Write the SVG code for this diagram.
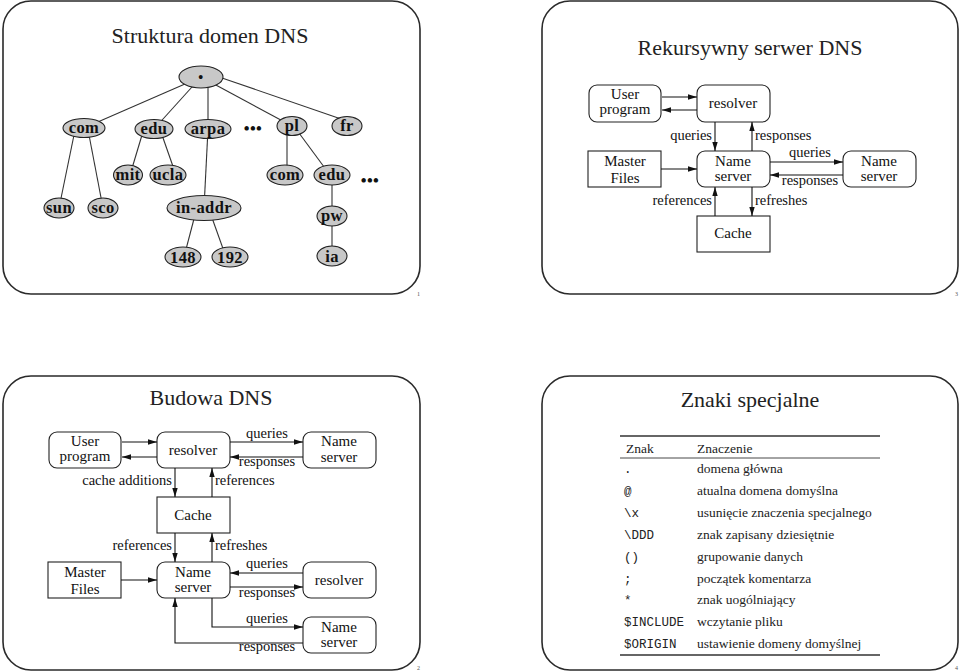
<svg xmlns="http://www.w3.org/2000/svg" width="960" height="672" viewBox="0 0 960 672">
<style>
.frame{fill:none;stroke:#2a2a2a;stroke-width:1.6}
.ttl{font-family:"Liberation Serif","Times New Roman",serif;font-size:22px;fill:#222;text-anchor:middle}
.nd{fill:#c8c8c8;stroke:#222;stroke-width:1.1}
.nt{font-family:"Liberation Serif",serif;font-size:16.5px;font-weight:bold;fill:#111;text-anchor:middle;letter-spacing:0.4px}
.tree{stroke:#333;stroke-width:1.1;fill:none}
.box{fill:#fff;stroke:#222;stroke-width:1.1}
.bt{font-family:"Liberation Serif",serif;font-size:15px;fill:#111;text-anchor:middle}
.lb{font-family:"Liberation Serif",serif;font-size:14.5px;fill:#111}
.c{text-anchor:middle}
.e{text-anchor:end}
.ar{stroke:#111;stroke-width:1.1;fill:none;marker-end:url(#ah)}
.tx{font-family:"Liberation Serif",serif;font-size:13.5px;fill:#222}
.mono{font-family:"Liberation Mono",monospace;font-size:12.5px;fill:#222}
.rule{stroke:#333}
.pn{font-family:"Liberation Serif",serif;font-size:6px;fill:#555}
</style>
<defs>
<marker id="ah" viewBox="0 0 10 6" refX="10" refY="3" markerWidth="9" markerHeight="6" orient="auto" markerUnits="userSpaceOnUse">
<path d="M0,0 L10,3 L0,6 z" fill="#111"/>
</marker>
</defs>
<rect width="960" height="672" fill="#fff"/>

<!-- page frames -->
<g id="frames">
<rect class="frame" x="3" y="1" width="417" height="293" rx="28"/>
<rect class="frame" x="542" y="1" width="416" height="293" rx="28"/>
<rect class="frame" x="3" y="376" width="417" height="294" rx="28"/>
<rect class="frame" x="542" y="376" width="416" height="294" rx="28"/>
<text class="pn" x="417" y="296">1</text>
<text class="pn" x="955" y="296">3</text>
<text class="pn" x="417" y="670">2</text>
<text class="pn" x="955" y="670">4</text>
</g>

<!-- ================= Slide 1: tree ================= -->
<text class="ttl" x="210" y="43" font-family="Liberation Serif, serif">Struktura domen DNS</text>
<g id="tree-connectors">
<line class="tree" x1="201" y1="77" x2="84" y2="128"/>
<line class="tree" x1="201" y1="77" x2="154" y2="129"/>
<line class="tree" x1="208" y1="85" x2="208" y2="129"/>
<line class="tree" x1="201" y1="77" x2="292" y2="126"/>
<line class="tree" x1="222" y1="78" x2="344" y2="120"/>
<line class="tree" x1="74" y1="135" x2="59" y2="208"/>
<line class="tree" x1="89" y1="135" x2="103" y2="208"/>
<line class="tree" x1="142" y1="135" x2="130" y2="175"/>
<line class="tree" x1="162" y1="135" x2="176" y2="175"/>
<line class="tree" x1="208" y1="129" x2="204" y2="208"/>
<line class="tree" x1="287" y1="126" x2="287" y2="175"/>
<line class="tree" x1="299" y1="133" x2="330" y2="175"/>
<line class="tree" x1="332" y1="175" x2="332" y2="216"/>
<line class="tree" x1="332" y1="216" x2="332" y2="256"/>
<line class="tree" x1="195" y1="215" x2="184" y2="257"/>
<line class="tree" x1="211" y1="215" x2="226" y2="257"/>
</g>
<g id="n-root"><ellipse class="nd" cx="201" cy="77" rx="22" ry="11"/><text class="nt" x="201" y="82" style="font-size:14px">•</text></g>
<g id="n-com"><ellipse class="nd" cx="84" cy="128" rx="21" ry="9.5"/><text class="nt" x="84" y="133">com</text></g>
<g id="n-edu"><ellipse class="nd" cx="154" cy="129" rx="19" ry="9.5"/><text class="nt" x="154" y="134">edu</text></g>
<g id="n-arpa"><ellipse class="nd" cx="208" cy="129" rx="23" ry="9.5"/><text class="nt" x="208" y="134">arpa</text></g>
<g id="dots1"><text class="nt" x="253" y="134">•••</text></g>
<g id="n-pl"><ellipse class="nd" cx="292" cy="126" rx="15" ry="9.5"/><text class="nt" x="292" y="131">pl</text></g>
<g id="n-fr"><ellipse class="nd" cx="347" cy="126" rx="15" ry="9.5"/><text class="nt" x="347" y="131">fr</text></g>
<g id="n-mit"><ellipse class="nd" cx="128" cy="175" rx="14.5" ry="10"/><text class="nt" x="128" y="180">mit</text></g>
<g id="n-ucla"><ellipse class="nd" cx="168" cy="175" rx="18" ry="10"/><text class="nt" x="168" y="180">ucla</text></g>
<g id="n-com2"><ellipse class="nd" cx="285" cy="175" rx="18" ry="10"/><text class="nt" x="285" y="180">com</text></g>
<g id="n-edu2"><ellipse class="nd" cx="332" cy="175" rx="18" ry="10"/><text class="nt" x="332" y="180">edu</text></g>
<g id="dots2"><text class="nt" x="370" y="186">•••</text></g>
<g id="n-sun"><ellipse class="nd" cx="59" cy="208" rx="15" ry="10"/><text class="nt" x="59" y="213">sun</text></g>
<g id="n-sco"><ellipse class="nd" cx="103" cy="208" rx="15" ry="10"/><text class="nt" x="103" y="213">sco</text></g>
<g id="n-inaddr"><ellipse class="nd" cx="204" cy="208" rx="37" ry="12.5"/><text class="nt" x="204" y="213">in-addr</text></g>
<g id="n-pw"><ellipse class="nd" cx="332" cy="216" rx="15" ry="10"/><text class="nt" x="332" y="221">pw</text></g>
<g id="n-148"><ellipse class="nd" cx="183" cy="257" rx="18" ry="10"/><text class="nt" x="183" y="263">148</text></g>
<g id="n-192"><ellipse class="nd" cx="230" cy="257" rx="18" ry="10"/><text class="nt" x="230" y="263">192</text></g>
<g id="n-ia"><ellipse class="nd" cx="332" cy="256" rx="15" ry="10"/><text class="nt" x="332" y="262">ia</text></g>

<!-- ================= Slide 3: recursive ================= -->
<text class="ttl" x="750" y="55" font-family="Liberation Serif, serif">Rekursywny serwer DNS</text>
<g id="r-user"><rect class="box" x="589" y="85" width="72" height="37" rx="8"/><text class="bt" x="625" y="99">User</text><text class="bt" x="625" y="114">program</text></g>
<g id="r-resolver"><rect class="box" x="697" y="85" width="73" height="37" rx="8"/><text class="bt" x="733" y="108">resolver</text></g>
<g id="r-master"><rect class="box" x="588" y="151" width="73" height="36"/><text class="bt" x="625" y="166">Master</text><text class="bt" x="625" y="183">Files</text></g>
<g id="r-ns"><rect class="box" x="697" y="151" width="73" height="36" rx="8"/><text class="bt" x="733" y="166">Name</text><text class="bt" x="733" y="181">server</text></g>
<g id="r-ns2"><rect class="box" x="843" y="151" width="73" height="36" rx="8"/><text class="bt" x="879" y="166">Name</text><text class="bt" x="879" y="181">server</text></g>
<g id="r-cache"><rect class="box" x="697" y="216" width="73" height="36"/><text class="bt" x="733" y="238">Cache</text></g>
<g id="r-connectors">
<line class="ar" x1="662" y1="97" x2="697" y2="97"/>
<line class="ar" x1="697" y1="110" x2="662" y2="110"/>
<line class="ar" x1="715" y1="122" x2="715" y2="151"/>
<line class="ar" x1="752" y1="151" x2="752" y2="122"/>
<line class="ar" x1="770" y1="162" x2="843" y2="162"/>
<line class="ar" x1="843" y1="175" x2="770" y2="175"/>
<line class="ar" x1="661" y1="169" x2="697" y2="169"/>
<line class="ar" x1="715" y1="216" x2="715" y2="187"/>
<line class="ar" x1="752" y1="187" x2="752" y2="216"/>
<text class="lb e" x="712" y="140">queries</text>
<text class="lb" x="755" y="140">responses</text>
<text class="lb c" x="810" y="157">queries</text>
<text class="lb c" x="810" y="185">responses</text>
<text class="lb e" x="712" y="205">references</text>
<text class="lb" x="755" y="205">refreshes</text>
</g>

<!-- ================= Slide 2: structure ================= -->
<text class="ttl" x="211" y="405" font-family="Liberation Serif, serif">Budowa DNS</text>
<g id="b-user"><rect class="box" x="49" y="432" width="72" height="36" rx="8"/><text class="bt" x="85" y="446">User</text><text class="bt" x="85" y="461">program</text></g>
<g id="b-resolver"><rect class="box" x="157" y="432" width="73" height="36" rx="8"/><text class="bt" x="193" y="455">resolver</text></g>
<g id="b-ns1"><rect class="box" x="303" y="432" width="73" height="36" rx="8"/><text class="bt" x="339" y="446">Name</text><text class="bt" x="339" y="462">server</text></g>
<g id="b-cache"><rect class="box" x="157" y="497" width="73" height="36"/><text class="bt" x="193" y="520">Cache</text></g>
<g id="b-master"><rect class="box" x="48" y="562" width="73" height="36"/><text class="bt" x="85" y="577">Master</text><text class="bt" x="85" y="594">Files</text></g>
<g id="b-ns"><rect class="box" x="157" y="562" width="73" height="36" rx="8"/><text class="bt" x="193" y="577">Name</text><text class="bt" x="193" y="592">server</text></g>
<g id="b-resolver2"><rect class="box" x="303" y="562" width="73" height="36" rx="8"/><text class="bt" x="339" y="585">resolver</text></g>
<g id="b-ns2"><rect class="box" x="303" y="617" width="73" height="36" rx="8"/><text class="bt" x="339" y="632">Name</text><text class="bt" x="339" y="647">server</text></g>
<g id="b-connectors">
<line class="ar" x1="122" y1="442" x2="157" y2="442"/>
<line class="ar" x1="157" y1="457" x2="122" y2="457"/>
<line class="ar" x1="230" y1="442" x2="303" y2="442"/>
<line class="ar" x1="303" y1="457" x2="230" y2="457"/>
<line class="ar" x1="175" y1="468" x2="175" y2="497"/>
<line class="ar" x1="212" y1="497" x2="212" y2="468"/>
<line class="ar" x1="175" y1="533" x2="175" y2="562"/>
<line class="ar" x1="212" y1="562" x2="212" y2="533"/>
<line class="ar" x1="121" y1="580" x2="157" y2="580"/>
<line class="ar" x1="303" y1="573" x2="230" y2="573"/>
<line class="ar" x1="230" y1="587" x2="303" y2="587"/>
<polyline class="ar" points="212,598 212,627 303,627"/>
<polyline class="ar" points="303,643 175,643 175,598"/>
<text class="lb c" x="267" y="438">queries</text>
<text class="lb c" x="267" y="466">responses</text>
<text class="lb e" x="172" y="485">cache additions</text>
<text class="lb" x="215" y="485">references</text>
<text class="lb e" x="172" y="550">references</text>
<text class="lb" x="215" y="550">refreshes</text>
<text class="lb c" x="267" y="568">queries</text>
<text class="lb c" x="267" y="597">responses</text>
<text class="lb c" x="267" y="623">queries</text>
<text class="lb c" x="267" y="651">responses</text>
</g>

<!-- ================= Slide 4: table ================= -->
<text class="ttl" x="750" y="407" font-family="Liberation Serif, serif">Znaki specjalne</text>
<g id="table">
<line class="rule" x1="620" y1="436" x2="880" y2="436" stroke-width="1.3"/>
<line class="rule" x1="620" y1="458" x2="880" y2="458" stroke-width="0.9"/>
<line class="rule" x1="620" y1="655" x2="880" y2="655" stroke-width="1.3"/>
<text class="tx" x="626" y="453">Znak</text>
<text class="tx" x="697" y="453">Znaczenie</text>
<text class="mono" x="624" y="473">.</text><text class="tx" x="697" y="473">domena główna</text>
<text class="mono" x="624" y="495">@</text><text class="tx" x="697" y="495">atualna domena domyślna</text>
<text class="mono" x="624" y="517">\x</text><text class="tx" x="697" y="517">usunięcie znaczenia specjalnego</text>
<text class="mono" x="624" y="539">\DDD</text><text class="tx" x="697" y="539">znak zapisany dziesiętnie</text>
<text class="mono" x="624" y="561">()</text><text class="tx" x="697" y="561">grupowanie danych</text>
<text class="mono" x="624" y="583">;</text><text class="tx" x="697" y="583">początek komentarza</text>
<text class="mono" x="624" y="604">*</text><text class="tx" x="697" y="604">znak uogólniający</text>
<text class="mono" x="624" y="626">$INCLUDE</text><text class="tx" x="697" y="626">wczytanie pliku</text>
<text class="mono" x="624" y="648">$ORIGIN</text><text class="tx" x="697" y="648">ustawienie domeny domyślnej</text>
</g>
</svg>
